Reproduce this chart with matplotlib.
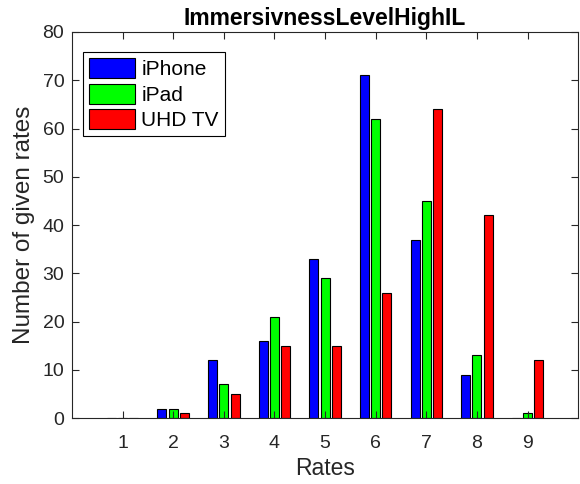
import numpy as np
import matplotlib.pyplot as plt

plt.rcParams['font.family'] = ['Liberation Sans', 'DejaVu Sans']

rates = [1, 2, 3, 4, 5, 6, 7, 8, 9]
iphone = [0, 2, 12, 16, 33, 71, 37, 9, 0]
ipad = [0, 2, 7, 21, 29, 62, 45, 13, 1]
uhd_tv = [0, 1, 5, 15, 15, 26, 64, 42, 12]

series = [("iPhone", iphone, (0, 0, 1)),
          ("iPad", ipad, (0, 1, 0)),
          ("UHD TV", uhd_tv, (1, 0, 0))]


def main():
    fig = plt.figure(figsize=(5.8, 4.84), dpi=100)
    ax = fig.add_axes([0.124, 0.136, 0.873, 0.798])

    x = np.array(rates)
    step = 0.222
    width = 0.178
    for i, (name, vals, col) in enumerate(series):
        ax.bar(x + (i - 1) * step, vals, width, color=col, edgecolor='black',
               linewidth=0.8, label=name)

    ax.set_xlim(0, 10)
    ax.set_ylim(0, 80)
    ax.set_xticks(rates)
    ax.set_yticks(np.arange(0, 81, 10))

    edge = (0.15, 0.15, 0.15)
    for s in ax.spines.values():
        s.set_color(edge)
        s.set_linewidth(0.8)
    ax.tick_params(direction='in', top=True, right=True, labelsize=14,
                   color=edge, length=5, width=0.8, labelcolor=edge)
    ax.tick_params(axis='x', pad=12)
    ax.tick_params(axis='y', pad=5.5)

    ax.set_xlabel("Rates", fontsize=16.5, color=edge, labelpad=4)
    ax.set_ylabel("Number of given rates", fontsize=17.5, color=edge, labelpad=5)
    ax.set_title("ImmersivnessLevelHighIL", fontsize=16.5, fontweight='bold', pad=5)

    leg = ax.legend(loc='upper left', bbox_to_anchor=(0.022, 0.948), fontsize=15,
                    borderaxespad=0, fancybox=False, framealpha=1, edgecolor='black',
                    handlelength=2.2, handleheight=1.1, borderpad=0.3,
                    labelspacing=0.2, handletextpad=0.3)
    leg.get_frame().set_linewidth(0.8)

    fig.savefig("out.png", dpi=100)


if __name__ == "__main__":
    main()
